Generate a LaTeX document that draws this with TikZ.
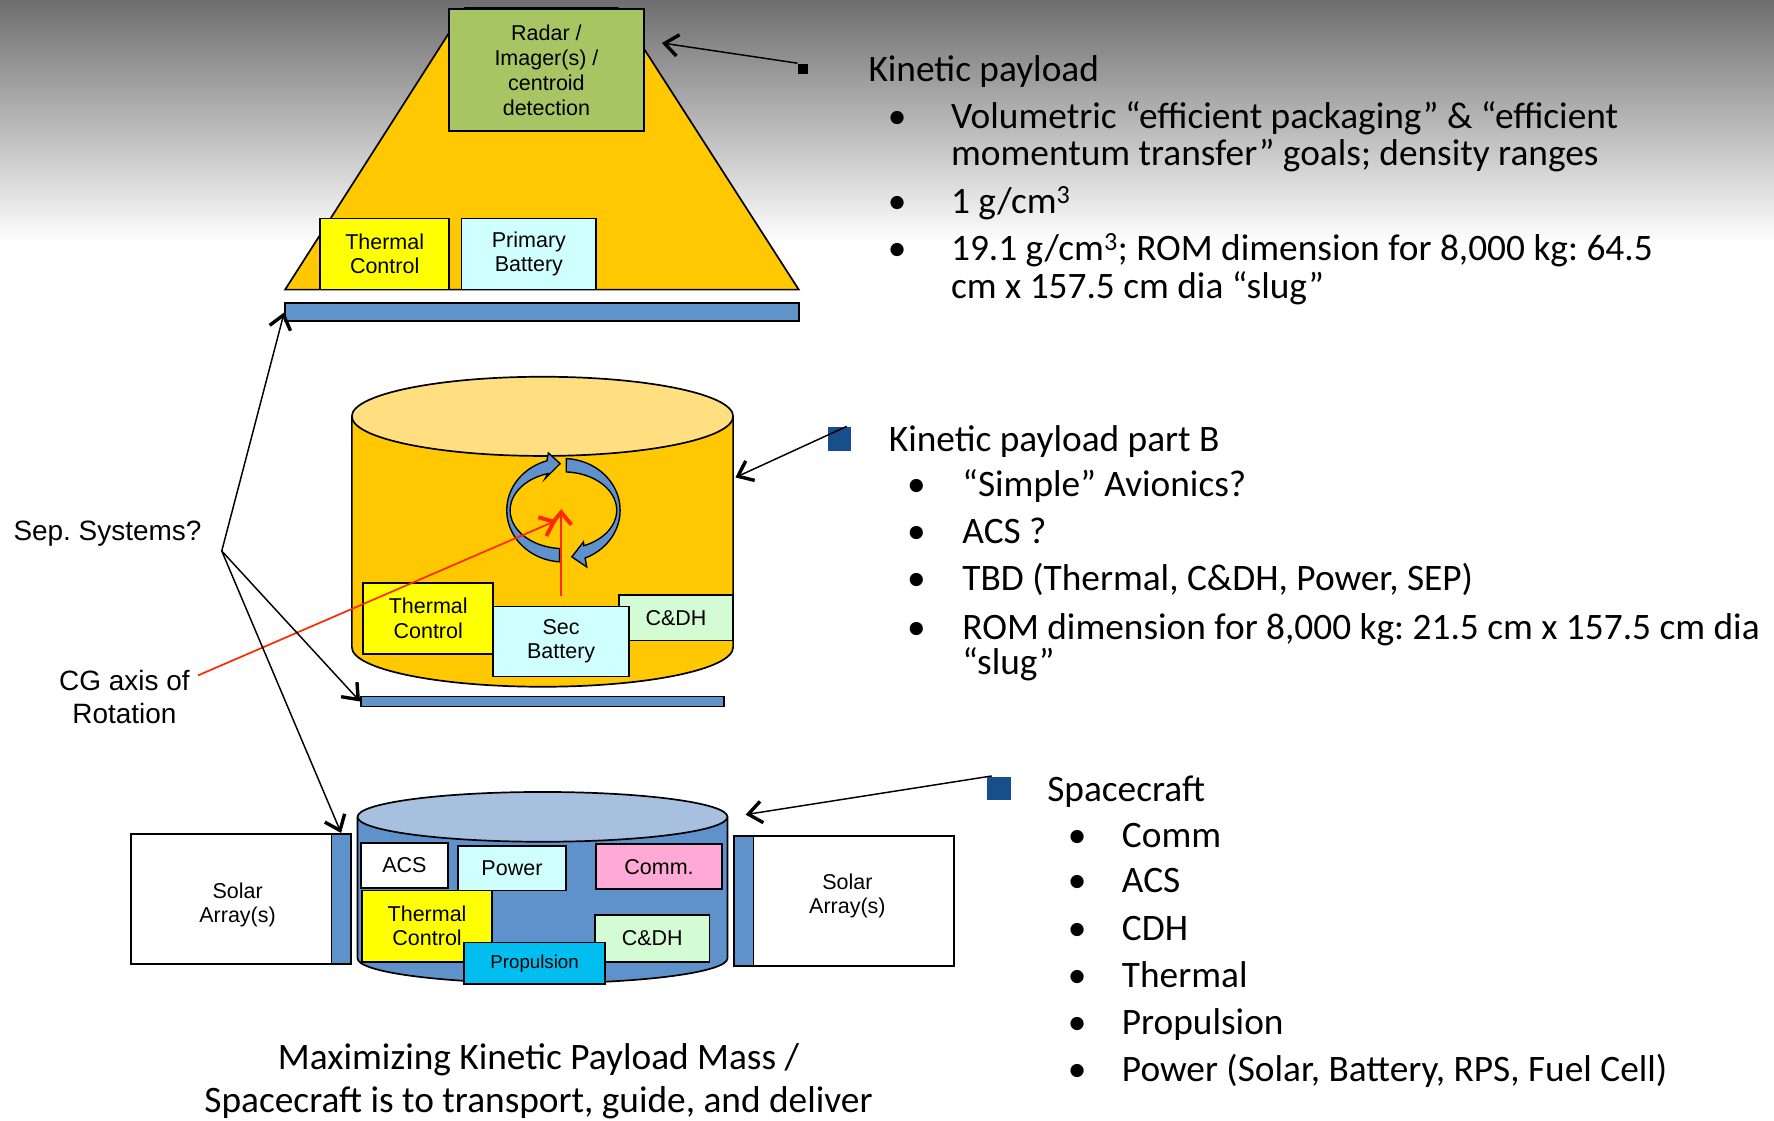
\documentclass[tikz,border=0pt]{standalone}
\usepackage{fontspec}
\setmainfont{Liberation Sans}
\newfontfamily\slidefont{Carlito}
\usepackage{xcolor}
\usetikzlibrary{arrows.meta,calc}
\frenchspacing
\definecolor{bgtop}{RGB}{110,110,110}
\definecolor{conebody}{RGB}{255,200,0}
\definecolor{conelid}{RGB}{255,223,128}
\definecolor{radargreen}{RGB}{167,197,98}
\definecolor{thermal}{RGB}{255,255,0}
\definecolor{battery}{RGB}{208,255,255}
\definecolor{cdh}{RGB}{212,252,212}
\definecolor{barblue}{RGB}{98,148,204}
\definecolor{scbody}{RGB}{95,146,202}
\definecolor{sclid}{RGB}{167,192,224}
\definecolor{comm}{RGB}{255,170,214}
\definecolor{propulsion}{RGB}{0,190,240}
\definecolor{spin}{RGB}{95,146,204}
\definecolor{cgred}{RGB}{255,40,0}
\definecolor{squareblue}{RGB}{22,79,140}
\newcommand{\boxfont}{\fontsize{19}{21.5}\selectfont}
\newcommand{\labelfont}{\fontsize{24.7}{29}\selectfont}
\newcommand{\slidetext}{\slidefont\fontsize{33}{32}\selectfont}
\newcommand{\drum}[7]{
  % #1 centre x, #2 lid y, #3 floor y, #4 x radius, #5 y radius
  \pgfmathsetmacro{\drumleft}{#1-#4}
  \pgfmathsetmacro{\drumright}{#1+#4}
  \fill[#6] (\drumleft,#2) rectangle (\drumright,#3);
  \fill[#6] (#1,#3) ellipse[x radius=#4, y radius=#5];
  \draw[line width=1.5pt] (\drumleft,#2) -- (\drumleft,#3) arc[start angle=180, end angle=0, x radius=#4, y radius=#5] -- (\drumright,#2);
  \draw[line width=1.5pt, fill=#7] (#1,#2) ellipse[x radius=#4, y radius=#5];
}
\tikzstyle{unit}=[draw, line width=1.5pt, inner sep=0pt, align=center, font=\boxfont]
\tikzstyle{bar}=[draw, line width=1.5pt, inner sep=0pt, fill=barblue]
\tikzstyle{item}=[anchor=base west, inner sep=0pt, font=\slidetext]
\tikzstyle{dot}=[anchor=base, inner sep=0pt, font=\slidetext]
\tikzstyle{bulletsq}=[inner sep=0pt, draw=none]
\tikzset{pointer/.style={-{Straight Barb[length=12pt,width=19pt,line width=3pt]}, line width=1.3pt}}
\tikzset{redpointer/.style={-{Straight Barb[length=11pt,width=18pt,line width=3.5pt]}, line width=1.5pt, color=cgred}}
\tikzset{y=-1pt}
\tikzset{x=1pt}

\begin{document}
\begin{tikzpicture}[line width=1.3pt]
  \useasboundingbox (0,0) rectangle (1568,990);
  \fill[white] (0,0) rectangle (1568,990);
  \shade[top color=bgtop, bottom color=white] (0,0) rectangle (1568,215);

  %% Kinetic payload
  \draw[line width=1.5pt, fill=conebody] (252,256) -- (411,7) -- (546,7) -- (706,256) -- cycle;
  \draw (483,62) node[unit, minimum width=172, minimum height=108, fill=radargreen, font=\fontsize{19}{22}\selectfont] (radar) {Radar /\\Imager(s) /\\centroid\\detection};
  \draw (340,224.5) node[unit, minimum width=114, minimum height=63, fill=thermal] (thermalA) {Thermal\\Control};
  \draw (467.5,224.5) node[unit, minimum width=119, minimum height=63, fill=battery] (primary) {Primary\\Battery};
  \draw (479,276) node[bar, minimum width=454, minimum height=16] (barA) {};

  %% Kinetic payload part B
  \drum{479.5}{368}{572}{168.5}{35}{conebody}{conelid}
  \draw[line width=1.2pt, fill=spin] plot[domain=94:253, samples=40] ({498+50.1*cos(\x)},{451+45.7*sin(\x)})
    -- (484.7,400.3) -- (495.1,409.8) -- (481.8,423)
    -- plot[domain=253:94, samples=40] ({498+47.1*cos(\x)},{451+33.9*sin(\x)}) -- cycle;
  \draw[line width=1.2pt, fill=spin] plot[domain=273:427.5, samples=40] ({498+50.1*cos(\x)},{451+45.7*sin(\x)})
    -- (518.6,501.1) -- (505.4,492.2) -- (515.7,479)
    -- plot[domain=427.5:273, samples=40] ({498+47.1*cos(\x)},{451+33.9*sin(\x)}) -- cycle;
  \draw (378.5,546.5) node[unit, minimum width=115, minimum height=63, fill=thermal] (thermalB) {Thermal\\Control};
  \draw (597.5,546) node[unit, minimum width=101, minimum height=40, fill=cdh] (cdhB) {C\&DH};
  \draw (496,567) node[unit, minimum width=120, minimum height=62, fill=battery] (secbat) {Sec\\Battery};
  \draw (479.5,620) node[bar, minimum width=321, minimum height=9] (barB) {};
  \coordinate (cgBase) at (496,527);
  \coordinate (cgTip) at (496,450);
  \coordinate (cgFrom) at (175,597);
  \coordinate (cgSide) at (492,460);
  \draw[redpointer] (cgBase) -- (cgTip);
  \draw[redpointer] (cgFrom) -- (cgSide);

  %% Spacecraft
  \draw (204.5,794.5) node[unit, minimum width=177, minimum height=115, fill=white] (solarL) {};
  \draw (210,800) node[font=\boxfont, align=center, inner sep=0pt] (solarLtxt) {Solar\\Array(s)};
  \draw (301.5,794.5) node[bar, minimum width=17, minimum height=115, fill=scbody] (stripL) {};
  \draw (657.5,796.5) node[bar, minimum width=17, minimum height=115, fill=scbody] (stripR) {};
  \draw (754.5,796.5) node[unit, minimum width=177, minimum height=115, fill=white] (solarR) {};
  \draw (749,792) node[font=\boxfont, align=center, inner sep=0pt] (solarRtxt) {Solar\\Array(s)};
  \drum{479.5}{722}{847}{163.5}{22}{scbody}{sclid}
  \draw (357.5,765) node[unit, minimum width=77, minimum height=40, fill=white] (acs) {ACS};
  \draw (452.5,767.5) node[unit, minimum width=95, minimum height=39, fill=battery] (power) {Power};
  \draw (582.5,766) node[unit, minimum width=111, minimum height=40, fill=comm] (comm) {Comm.};
  \draw (377.5,818.5) node[unit, minimum width=115, minimum height=63, fill=thermal] (thermalC) {Thermal\\Control};
  \draw (576.5,829.5) node[unit, minimum width=101, minimum height=41, fill=cdh] (cdhC) {C\&DH};
  \draw (472.5,851.5) node[unit, minimum width=125, minimum height=37, fill=propulsion, font=\fontsize{16.5}{19}\selectfont] (prop) {Propulsion};

  %% Side labels
  \draw (95,472) node[font=\labelfont] (sepLbl) {Sep. Systems?};
  \draw (110,616) node[font=\labelfont, align=center] (cgLbl) {CG axis of\\Rotation};
  \coordinate (sepPt) at (196,487);
  \draw[pointer] (sepPt) -- (barA.west);
  \draw[pointer] (sepPt) -- (barB.west);
  \draw[pointer] (sepPt) -- (stripL.north);

  %% Pointers from the text
  \draw (710,61) node[bulletsq, minimum size=9, fill=black] (kpSq) {};
  \draw (742,388) node[bulletsq, minimum size=21, fill=squareblue] (pbSq) {};
  \draw (883,697) node[bulletsq, minimum size=21, fill=squareblue] (scSq) {};
  \coordinate (kpTip) at (585,38);
  \coordinate (pbTip) at (650,422);
  \coordinate (scTip) at (659,720);
  \draw[pointer] (kpSq.north west) -- (kpTip);
  \draw[pointer] (pbSq.60) -- (pbTip);
  \draw[pointer] (scSq.120) -- (scTip);

  %% Text
  \draw (767,72) node[item] (kp0) {Kinetic payload};
  \draw (793,114) node[dot] (kpd1) {•};
  \draw (840,114) node[item] (kp1) {Volumetric “efficient packaging” \& “efficient};
  \draw (840,146) node[item] (kp1b) {momentum transfer” goals; density ranges};
  \draw (793,189) node[dot] (kpd2) {•};
  \draw (840,189) node[item] (kp2) {1 g/cm\textsuperscript{3}};
  \draw (793,230) node[dot] (kpd3) {•};
  \draw (840,230) node[item] (kp3) {19.1 g/cm\textsuperscript{3}; ROM dimension for 8,000 kg: 64.5};
  \draw (840,264) node[item] (kp3b) {cm x 157.5 cm dia “slug”};

  \draw (785,399) node[item] (pb0) {Kinetic payload part B};
  \draw (810,439) node[dot] (pbd1) {•};
  \draw (850,439) node[item] (pb1) {“Simple” Avionics?};
  \draw (810,480) node[dot] (pbd2) {•};
  \draw (850,480) node[item] (pb2) {ACS ?};
  \draw (810,522) node[dot] (pbd3) {•};
  \draw (850,522) node[item] (pb3) {TBD (Thermal, C\&DH, Power, SEP)};
  \draw (810,565) node[dot] (pbd4) {•};
  \draw (850,565) node[item] (pb4) {ROM dimension for 8,000 kg: 21.5 cm x 157.5 cm dia};
  \draw (850,596) node[item] (pb4b) {“slug”};

  \draw (925,708) node[item] (sc0) {Spacecraft};
  \draw (952,749) node[dot] (scd1) {•};
  \draw (991,749) node[item] (sc1) {Comm};
  \draw (952,789) node[dot] (scd2) {•};
  \draw (991,789) node[item] (sc2) {ACS};
  \draw (952,831) node[dot] (scd3) {•};
  \draw (991,831) node[item] (sc3) {CDH};
  \draw (952,873) node[dot] (scd4) {•};
  \draw (991,873) node[item] (sc4) {Thermal};
  \draw (952,914) node[dot] (scd5) {•};
  \draw (991,914) node[item] (sc5) {Propulsion};
  \draw (952,956) node[dot] (scd6) {•};
  \draw (991,956) node[item] (sc6) {Power (Solar, Battery, RPS, Fuel Cell)};

  \draw (476,956) node[font={\slidefont\fontsize{33}{38}\selectfont}, align=center] (caption) {Maximizing Kinetic Payload Mass /\\Spacecraft is to transport, guide, and deliver};
\end{tikzpicture}
\end{document}
